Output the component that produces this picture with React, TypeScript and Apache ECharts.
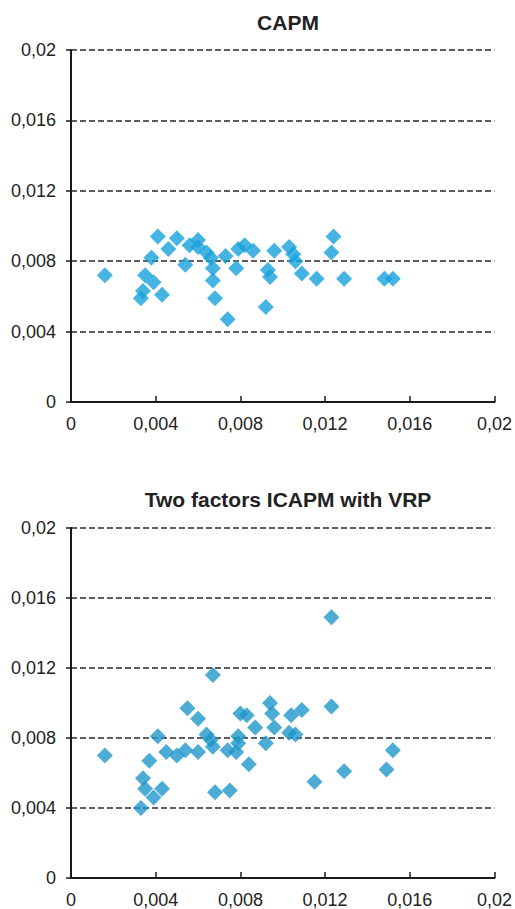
import React, { useEffect, useRef } from "react";
import * as echarts from "echarts";

const titles = ["CAPM", "Two factors ICAPM with VRP"];

const capmPoints: [number, number][] = [
  [0.0016, 0.0072], [0.0033, 0.0059], [0.0034, 0.0063], [0.0035, 0.0072],
  [0.0039, 0.0068], [0.0038, 0.0082], [0.0041, 0.0094], [0.0043, 0.0061],
  [0.0046, 0.0087], [0.0050, 0.0093], [0.0054, 0.0078], [0.0056, 0.0089],
  [0.0060, 0.0092], [0.0060, 0.0088], [0.0064, 0.0085], [0.0066, 0.0082],
  [0.0067, 0.0076], [0.0067, 0.0069], [0.0068, 0.0059], [0.0073, 0.0083],
  [0.0074, 0.0047], [0.0078, 0.0076], [0.0079, 0.0087], [0.0082, 0.0089],
  [0.0086, 0.0086], [0.0092, 0.0054], [0.0093, 0.0075], [0.0094, 0.0071],
  [0.0096, 0.0086], [0.0103, 0.0088], [0.0105, 0.0084], [0.0106, 0.0080],
  [0.0109, 0.0073], [0.0116, 0.0070], [0.0123, 0.0085], [0.0124, 0.0094],
  [0.0129, 0.0070], [0.0148, 0.0070], [0.0152, 0.0070],
];

const icapmPoints: [number, number][] = [
  [0.0016, 0.0070], [0.0033, 0.0040], [0.0034, 0.0057], [0.0035, 0.0051],
  [0.0039, 0.0046], [0.0043, 0.0051], [0.0037, 0.0067], [0.0041, 0.0081],
  [0.0045, 0.0072], [0.0050, 0.0070], [0.0054, 0.0073], [0.0055, 0.0097],
  [0.0060, 0.0091], [0.0060, 0.0072], [0.0064, 0.0082], [0.0066, 0.0079],
  [0.0067, 0.0075], [0.0067, 0.0116], [0.0068, 0.0049], [0.0074, 0.0073],
  [0.0075, 0.0050], [0.0078, 0.0072], [0.0079, 0.0081], [0.0079, 0.0077],
  [0.0080, 0.0094], [0.0083, 0.0093], [0.0084, 0.0065], [0.0087, 0.0086],
  [0.0092, 0.0077], [0.0094, 0.0100], [0.0095, 0.0094], [0.0096, 0.0086],
  [0.0103, 0.0083], [0.0104, 0.0093], [0.0106, 0.0082], [0.0109, 0.0096],
  [0.0115, 0.0055], [0.0123, 0.0149], [0.0123, 0.0098], [0.0129, 0.0061],
  [0.0149, 0.0062], [0.0152, 0.0073],
];

const axisMin = 0;
const axisMax = 0.02;
const axisStep = 0.004;

const FONT = "'Liberation Sans', Arial, Helvetica, sans-serif";

const fmt = (v: number) => {
  if (v === 0) return "0";
  return String(Number(v.toFixed(3))).replace(".", ",");
};

export default function App() {
  const ref = useRef<HTMLDivElement>(null);
  useEffect(() => {
    if (!ref.current) return;
    const chart = echarts.init(ref.current, undefined, { renderer: "svg" });
    const grids = [
      { left: 71, top: 50, width: 426, height: 352 },
      { left: 71, top: 528, width: 426, height: 352 },
    ];
    const xAxis = grids.map((_, i) => ({
      type: "value",
      gridIndex: i,
      min: axisMin,
      max: axisMax,
      interval: axisStep,
      axisLine: { show: true, onZero: false, lineStyle: { color: "#1a1a1a", width: 2 } },
      axisTick: { show: true, inside: true, length: 6, lineStyle: { color: "#1a1a1a", width: 1.5 } },
      splitLine: { show: false },
      axisLabel: { color: "#222", fontSize: 18, fontFamily: FONT, margin: 13, formatter: fmt },
    }));
    const yAxis = grids.map((_, i) => ({
      type: "value",
      gridIndex: i,
      min: axisMin,
      max: axisMax,
      interval: axisStep,
      axisLine: { show: true, onZero: false, lineStyle: { color: "#1a1a1a", width: 2 } },
      axisTick: { show: true, inside: false, length: 5, lineStyle: { color: "#1a1a1a", width: 1.5 } },
      splitLine: { show: true, lineStyle: { color: "#2a2a2a", width: 1.5, type: [6, 3] } },
      axisLabel: { color: "#222", fontSize: 18, fontFamily: FONT, margin: 15, formatter: fmt },
    }));
    chart.setOption({
      animation: false,
      backgroundColor: "#fff",
      title: [
        {
          text: titles[0],
          left: 283,
          top: 7,
          textAlign: "center",
          textStyle: { fontFamily: FONT, fontWeight: "bold", fontSize: 21, color: "#222" },
        },
        {
          text: titles[1],
          left: 283,
          top: 484,
          textAlign: "center",
          textStyle: { fontFamily: FONT, fontWeight: "bold", fontSize: 21, color: "#222" },
        },
      ],
      grid: grids,
      xAxis,
      yAxis,
      series: [
        {
          type: "scatter",
          xAxisIndex: 0,
          yAxisIndex: 0,
          symbol: "diamond",
          symbolSize: 16,
          itemStyle: { color: "#18a1dc" },
          data: capmPoints,
        },
        {
          type: "scatter",
          xAxisIndex: 1,
          yAxisIndex: 1,
          symbol: "diamond",
          symbolSize: 16,
          itemStyle: { color: "#1f97ca" },
          data: icapmPoints,
        },
      ],
    });
    return () => chart.dispose();
  }, []);
  return (
    <div
      ref={ref}
      style={{ position: "absolute", left: 0, top: 0, width: 515, height: 909 }}
    />
  );
}
